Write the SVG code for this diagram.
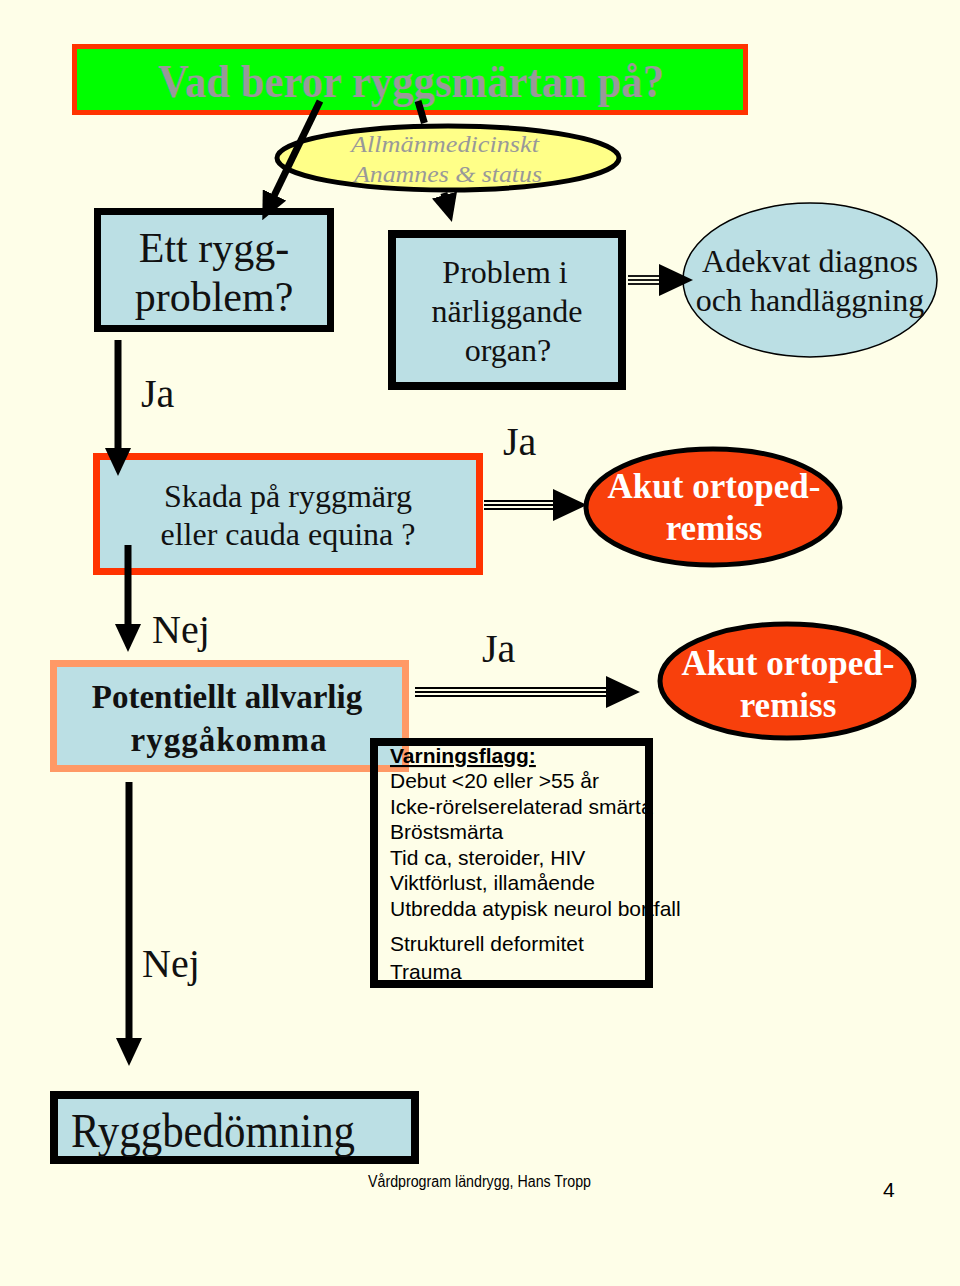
<svg xmlns="http://www.w3.org/2000/svg" width="960" height="1286" viewBox="0 0 960 1286">
<style>
.bg{fill:#FEFEE8}
.serif{font-family:"Liberation Serif","Times New Roman",serif}
.sans{font-family:"Liberation Sans",Arial,sans-serif}
.blue{fill:#BBDFE4}
.lbl{font-family:"Liberation Serif","Times New Roman",serif;fill:#111}
.akut{fill:#F8400C;stroke:#000;stroke-width:5}
.akuttxt{font-family:"Liberation Serif","Times New Roman",serif;font-weight:bold;fill:#fff;font-size:35px;text-anchor:middle}
.shaft{stroke:#000;stroke-width:7;fill:none}
.trip{stroke:#000;stroke-width:1.8;fill:none}
.vf{font-family:"Liberation Sans",Arial,sans-serif;font-size:21px;fill:#000}
</style>
<defs>
<marker id="ah" markerUnits="userSpaceOnUse" viewBox="0 0 28 26" markerWidth="28" markerHeight="26" refX="2" refY="13" orient="auto">
<path d="M0,0 L28,13 L0,26 z" fill="#000"/>
</marker>
<marker id="ah2" markerUnits="userSpaceOnUse" viewBox="0 0 34 32" markerWidth="34" markerHeight="32" refX="1" refY="16" orient="auto">
<path d="M0,0 L34,16 L0,32 z" fill="#000"/>
</marker>
</defs>
<rect class="bg" x="0" y="0" width="960" height="1286"/>

<g id="title">
<rect x="74.5" y="46.5" width="671" height="66" fill="#00FF00" stroke="#FF3300" stroke-width="5"/>
<text class="serif" x="411" y="97" font-size="46" font-weight="bold" fill="#999999" text-anchor="middle" textLength="506" lengthAdjust="spacingAndGlyphs">Vad beror ryggsmärtan på?</text>
</g>

<g id="allman">
<ellipse cx="448" cy="158" rx="171" ry="32" fill="#FFFF88" stroke="#000" stroke-width="5"/>
<text class="serif" x="445" y="152" font-size="23" font-style="italic" fill="#999999" text-anchor="middle" textLength="188" lengthAdjust="spacingAndGlyphs">Allmänmedicinskt</text>
<text class="serif" x="448" y="182" font-size="23" font-style="italic" fill="#999999" text-anchor="middle" textLength="188" lengthAdjust="spacingAndGlyphs">Anamnes &amp; status</text>
</g>

<g id="ettrygg">
<rect class="blue" x="97.5" y="211.5" width="233" height="117" stroke="#000" stroke-width="7"/>
<text class="lbl" x="214" y="262" font-size="42" text-anchor="middle">Ett rygg-</text>
<text class="lbl" x="214" y="311" font-size="42" text-anchor="middle">problem?</text>
</g>

<g id="problem">
<rect class="blue" x="392" y="234" width="230" height="152" stroke="#000" stroke-width="8"/>
<text class="lbl" x="505" y="283" font-size="32" text-anchor="middle">Problem i</text>
<text class="lbl" x="507" y="322" font-size="32" text-anchor="middle">närliggande</text>
<text class="lbl" x="508" y="361" font-size="32" text-anchor="middle">organ?</text>
</g>

<g id="adekvat">
<ellipse class="blue" cx="810" cy="280" rx="127" ry="77" stroke="#000" stroke-width="1.5"/>
<text class="lbl" x="810" y="272" font-size="32" text-anchor="middle">Adekvat diagnos</text>
<text class="lbl" x="810" y="311" font-size="32" text-anchor="middle">och handläggning</text>
</g>

<g id="skada">
<rect class="blue" x="96.5" y="456.5" width="383" height="115" stroke="#FF3300" stroke-width="7"/>
<text class="lbl" x="288" y="507" font-size="32" text-anchor="middle">Skada på ryggmärg</text>
<text class="lbl" x="288" y="545" font-size="32" text-anchor="middle">eller cauda equina ?</text>
</g>

<g id="akut1">
<ellipse class="akut" cx="713" cy="507" rx="127" ry="58"/>
<text class="akuttxt" x="714" y="498">Akut ortoped-</text>
<text class="akuttxt" x="714" y="540">remiss</text>
</g>

<g id="potentiellt">
<rect class="blue" x="53.5" y="663.5" width="352" height="105" stroke="#FF9966" stroke-width="7"/>
<text class="lbl" x="227" y="708" font-size="33" font-weight="bold" text-anchor="middle">Potentiellt allvarlig</text>
<text class="lbl" x="229" y="751" font-size="33" font-weight="bold" text-anchor="middle" letter-spacing="1">ryggåkomma</text>
</g>

<g id="akut2">
<ellipse class="akut" cx="787" cy="681" rx="127" ry="57"/>
<text class="akuttxt" x="788" y="675">Akut ortoped-</text>
<text class="akuttxt" x="788" y="717">remiss</text>
</g>

<g id="varning">
<text class="vf" x="390" y="763" font-weight="bold" text-decoration="underline">Varningsflagg:</text>
<text class="vf" x="390" y="788">Debut &lt;20 eller &gt;55 år</text>
<text class="vf" x="390" y="814">Icke-rörelserelaterad smärta</text>
<text class="vf" x="390" y="839">Bröstsmärta</text>
<text class="vf" x="390" y="865">Tid ca, steroider, HIV</text>
<text class="vf" x="390" y="890">Viktförlust, illamående</text>
<text class="vf" x="390" y="916">Utbredda atypisk neurol bortfall</text>
<text class="vf" x="390" y="951">Strukturell deformitet</text>
<text class="vf" x="390" y="979">Trauma</text>
<rect x="374" y="742" width="275" height="242" fill="none" stroke="#000" stroke-width="8"/>
</g>

<g id="ryggbedomning">
<rect class="blue" x="54" y="1095" width="361" height="65" stroke="#000" stroke-width="8"/>
<text class="lbl" x="71" y="1147" font-size="49" textLength="284" lengthAdjust="spacingAndGlyphs">Ryggbedömning</text>
</g>

<g id="connectors">
<line class="shaft" x1="320" y1="101" x2="273.6" y2="196.8" marker-end="url(#ah)"/>
<line class="shaft" x1="418" y1="101" x2="424.4" y2="123"/>
<line class="shaft" x1="443.9" y1="193" x2="445" y2="197" marker-end="url(#ah)"/>
<line class="shaft" x1="118" y1="340" x2="118" y2="450" marker-end="url(#ah)"/>
<line class="shaft" x1="128" y1="545" x2="128" y2="626" marker-end="url(#ah)"/>
<line class="shaft" x1="129" y1="782" x2="129" y2="1040" marker-end="url(#ah)"/>
<g id="arr-problem-adekvat">
<line class="trip" x1="628" y1="276" x2="660" y2="276"/>
<line class="trip" x1="628" y1="280" x2="660" y2="280"/>
<line class="trip" x1="628" y1="284" x2="660" y2="284"/>
<line x1="659" y1="280" x2="660" y2="280" stroke="none" marker-end="url(#ah2)"/>
</g>
<g id="arr-skada-akut">
<line class="trip" x1="484" y1="501" x2="554" y2="501"/>
<line class="trip" x1="484" y1="505" x2="554" y2="505"/>
<line class="trip" x1="484" y1="509" x2="554" y2="509"/>
<line x1="553" y1="505" x2="554" y2="505" stroke="none" marker-end="url(#ah2)"/>
</g>
<g id="arr-pot-akut">
<line class="trip" x1="415" y1="688" x2="607" y2="688"/>
<line class="trip" x1="415" y1="692" x2="607" y2="692"/>
<line class="trip" x1="415" y1="696" x2="607" y2="696"/>
<line x1="606" y1="692" x2="607" y2="692" stroke="none" marker-end="url(#ah2)"/>
</g>
<text class="lbl" x="141" y="407" font-size="40">Ja</text>
<text class="lbl" x="503" y="455" font-size="40">Ja</text>
<text class="lbl" x="152" y="643" font-size="40">Nej</text>
<text class="lbl" x="482" y="662" font-size="40">Ja</text>
<text class="lbl" x="142" y="977" font-size="40">Nej</text>
</g>

<g id="footer">
<text class="sans" x="368" y="1187" font-size="16" fill="#000" textLength="223" lengthAdjust="spacingAndGlyphs">Vårdprogram ländrygg, Hans Tropp</text>
<text class="sans" x="883" y="1197" font-size="21" fill="#000">4</text>
</g>
</svg>
